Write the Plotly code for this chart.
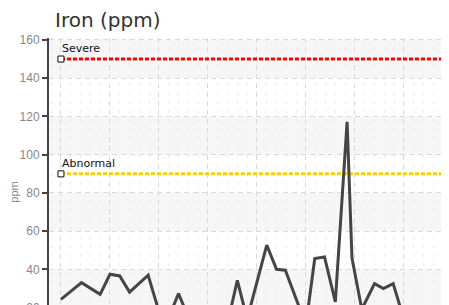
import plotly.graph_objects as go

# ---- data ----
sample_pos = [0, 2.1, 4.0, 5.0, 6.0, 7.0, 8.9, 10.0, 11.0, 12.0, 13.0, 14.0, 15.0, 16.0, 17.0,
              18.0, 19.0, 21.0, 22.0, 22.9, 25.0, 25.9, 26.9, 28.0, 29.2, 29.7, 30.7, 32.0,
              32.9, 33.9, 34.9, 36.0, 37.0, 38.1, 39.2]
iron_ppm = [24.4, 33.1, 27.0, 37.5, 36.6, 28.2, 37.0, 18, 15, 27.4, 15, 14, 16, 13, 12,
            34.3, 14, 52.7, 40.1, 39.6, 11, 45.7, 46.5, 23.0, 117.2, 45.9, 19.2, 32.6,
            30.0, 32.6, 15.7, 14, 12, 16, 13]
limit_names = ["Severe", "Abnormal"]
limit_values = [150, 90]
limit_colors = ["#ff0000", "#ffcc00"]
band_edges = [20, 40, 60, 80, 100, 120, 140, 160]

fig = go.Figure()

# alternating bands
for lo, hi in zip(band_edges[0::2], band_edges[1::2]):
    fig.add_shape(type="rect", xref="paper", x0=0, x1=1, yref="y", y0=lo, y1=hi,
                  fillcolor="#f6f6f6", line_width=0, layer="below")

# limit lines
for name, val, col in zip(limit_names, limit_values, limit_colors):
    fig.add_trace(go.Scatter(x=[sample_pos[0], sample_pos[-1]], y=[val, val], mode="lines",
                             line=dict(color=col, width=3, dash="4px,2px"),
                             hoverinfo="skip", showlegend=False))
    fig.add_trace(go.Scatter(x=[sample_pos[0]], y=[val], mode="markers",
                             marker=dict(symbol="square", size=6, color="white",
                                         line=dict(color="#111", width=1)),
                             hoverinfo="skip", showlegend=False))
    fig.add_annotation(x=sample_pos[0], y=val, text=name, showarrow=False,
                       xanchor="left", yanchor="bottom", yshift=2, xshift=-1,
                       font=dict(family="DejaVu Sans", size=11, color="#111"))

# iron series
fig.add_trace(go.Scatter(x=sample_pos, y=iron_ppm, mode="lines",
                         line=dict(color="#454545", width=3), showlegend=False))

H = 372
fig.update_layout(
    width=441, height=H,
    margin=dict(l=41, r=0, t=30, b=34),
    paper_bgcolor="white", plot_bgcolor="white",
    title=dict(text="Iron (ppm)", x=47 / 441, xanchor="left", xref="container",
               y=1 - 5 / H, yanchor="top", yref="container",
               font=dict(family="DejaVu Sans", size=20, color="#333")),
)
fig.update_xaxes(range=[-1.22, 39.6], tick0=0, dtick=5, showticklabels=False,
                 showgrid=True, gridcolor="#dadada", griddash="5px,4px", gridwidth=1,
                 zeroline=False, showline=False,
                 minor=dict(dtick=1, showgrid=True, gridcolor="#ececec",
                            griddash="3px,6px", gridwidth=1))
fig.update_yaxes(range=[0, 161], tick0=0, dtick=20,
                 showgrid=True, gridcolor="#dadada", griddash="5px,4px", gridwidth=1,
                 zeroline=False, showline=True, linecolor="#444", linewidth=2,
                 ticks="outside", ticklen=5, tickcolor="#444", tickwidth=1.5,
                 tickfont=dict(family="Liberation Sans", size=12, color="#888"),
                 title=dict(text="ppm", standoff=0,
                            font=dict(family="Liberation Sans", size=11, color="#888")))

fig.write_html("out.html")
